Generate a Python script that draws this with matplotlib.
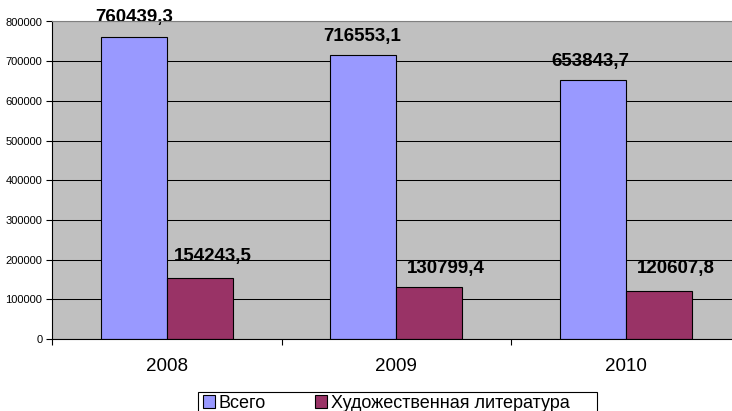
import matplotlib
matplotlib.use("Agg")
import matplotlib.pyplot as plt
from matplotlib.patches import Rectangle
import numpy as np

plt.rcParams["font.family"] = ["Liberation Sans", "DejaVu Sans"]

years = ["2008", "2009", "2010"]
total = [760439.3, 716553.1, 653843.7]
fiction = [154243.5, 130799.4, 120607.8]
series_names = ["Всего", "Художественная литература"]

BLUE = "#9999FF"
MAROON = "#993366"
PLOT_BG = "#C0C0C0"

# label nudges in pixels (dx, dy above the bar top)
total_offsets = [(0, 20), (-1, 18), (-2, 18)]
fiction_offsets = [(13, 21), (17, 19), (17, 23)]


def fmt(v):
    return f"{v:.1f}".replace(".", ",")


W, H = 732, 411
fig = plt.figure(figsize=(W / 100, H / 100), dpi=100)
ax = fig.add_axes([52 / W, 1 - 339 / H, (740.5 - 52) / W, (339 - 21.5) / H])
ax.set_facecolor(PLOT_BG)

x = np.arange(len(years))
w = 0.288
b1 = ax.bar(x - w / 2, total, w, color=BLUE, edgecolor="black", linewidth=0.8,
            zorder=2, label=series_names[0])
b2 = ax.bar(x + w / 2, fiction, w, color=MAROON, edgecolor="black", linewidth=0.8,
            zorder=2, label=series_names[1])

px = 72 / 100  # points per pixel
for bars, vals, offs in ((b1, total, total_offsets), (b2, fiction, fiction_offsets)):
    for rect, v, (dx, dy) in zip(bars, vals, offs):
        ax.annotate(fmt(v), (rect.get_x() + rect.get_width() / 2, v),
                    xytext=(dx * px, dy * px), textcoords="offset points",
                    ha="center", va="center", fontsize=13.5, fontweight="bold",
                    zorder=0.4, annotation_clip=False)

ax.set_ylim(0, 800000)
ax.set_xlim(-0.5, len(years) - 0.5)
ax.set_yticks(np.arange(0, 800001, 100000))
ax.set_yticklabels([str(v) for v in range(0, 800001, 100000)], fontsize=8)
ax.yaxis.grid(True, color="black", linewidth=0.75, zorder=0.5)
ax.set_axisbelow(True)
ax.tick_params(axis="y", direction="out", length=4, width=0.8, pad=3)

ax.set_xticks(x)
ax.set_xticklabels(years, fontsize=13.5)
ax.set_xticks(np.arange(-0.5, len(years), 1.0), minor=True)
ax.tick_params(axis="x", which="major", length=0, pad=14)
ax.tick_params(axis="x", which="minor", direction="out", length=4, width=0.8)

for side in ("left", "bottom"):
    ax.spines[side].set_color("black")
    ax.spines[side].set_linewidth(0.8)
ax.spines["top"].set_color("#808080")
ax.spines["right"].set_visible(False)

# legend box sits at the bottom edge, partly cut off
fig.add_artist(Rectangle((198 / W, -0.02), (597 - 198) / W, (1 - 392 / H) + 0.02,
                         transform=fig.transFigure, facecolor="white",
                         edgecolor="black", linewidth=0.8, zorder=3))
leg = fig.legend(handles=[b1, b2], labels=series_names, loc="upper left",
                 bbox_to_anchor=(201 / W, 1 - 393 / H), ncol=2,
                 fontsize=13, frameon=False,
                 handlelength=0.68, handleheight=0.68, handletextpad=0.2,
                 columnspacing=2.7, borderpad=0.1, borderaxespad=0)
leg.set_zorder(4)

fig.savefig("out.png", dpi=100)
